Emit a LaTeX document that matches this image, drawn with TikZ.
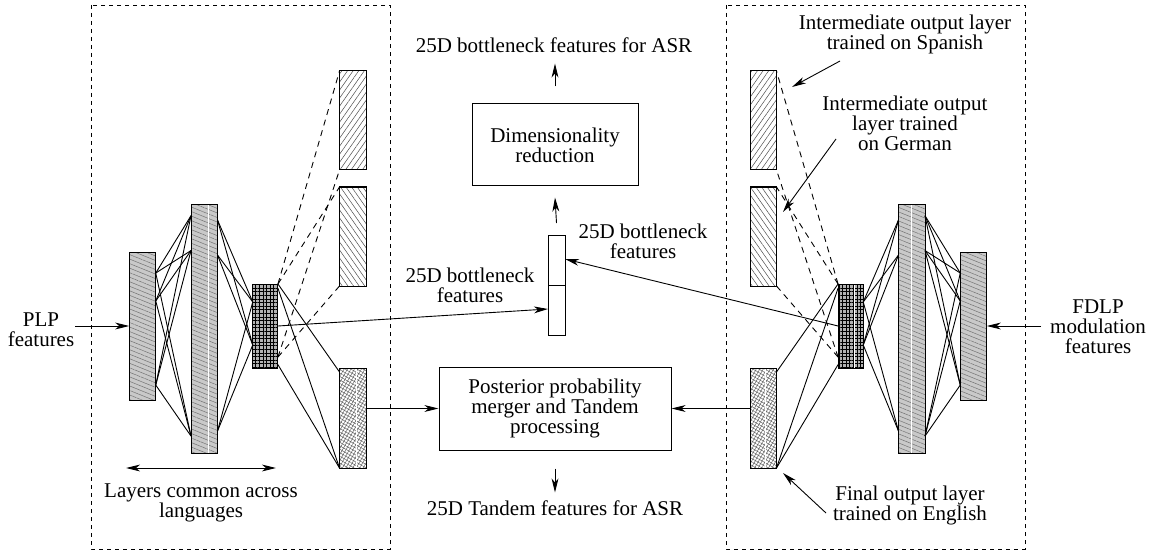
\documentclass[tikz,border=0pt]{standalone}
\usepackage{fontspec}
\setmainfont{Liberation Serif}
\usetikzlibrary{calc,arrows.meta,patterns.meta}

\begin{document}
\begin{tikzpicture}[x=0.5pt,y=-0.5pt,
  txt/.style={font=\fontsize{10.5}{10}\selectfont, align=center, inner sep=0pt},
  wire/.style={line width=0.45pt},
  dwire/.style={line width=0.45pt, dash pattern=on 3pt off 2.5pt},
  head/.tip={Stealth[length=7pt,width=3.4pt,inset=2pt]},
  arr/.style={line width=0.45pt, -head},
  darr/.style={line width=0.45pt, head-head},
  frame/.style={line width=0.45pt, dash pattern=on 2pt off 2pt},
  box/.style={draw, line width=0.5pt, inner sep=0pt, txt},
  layer/.style={draw, line width=0.5pt, inner sep=0pt, outer sep=0pt, minimum width=13.25pt},
  shared/.style={layer, preaction={fill=gray!42}, pattern={Lines[angle=-22,distance=2.1pt,line width=0.25pt]}, pattern color=black!55},
  neck/.style={layer, minimum width=12.6pt, minimum height=42pt, preaction={fill=gray!60}, pattern={Hatch[angle=0,distance=1.8pt,line width=0.3pt]}, pattern color=black},
  spout/.style={layer, minimum height=49.5pt, preaction={fill=white}, pattern={Lines[angle=55,distance=2.3pt,line width=0.25pt]}, pattern color=black!70},
  grout/.style={layer, minimum height=49.5pt, preaction={fill=white}, pattern={Lines[angle=-55,distance=2.3pt,line width=0.25pt]}, pattern color=black!70},
  enout/.style={layer, minimum height=50pt, preaction={fill=white}, pattern={Hatch[angle=60,distance=1.5pt,line width=0.25pt]}, pattern color=black!60},
  streak/.style={white, line width=0.5pt},
  bnbox/.style={layer, minimum width=8.5pt, minimum height=25pt, fill=white}
]
\useasboundingbox (0,0) rectangle (1157,551);

% dashed frames around the two networks
\draw[frame] (91,5) rectangle (390,549);
\draw[frame] (726,5) rectangle (1025,549);

% ---------------- left network (PLP) ----------------
\node[shared, minimum height=74pt] (L1) at (142.5,326) {};
\node[shared, minimum height=124.5pt] (H1) at (204.25,328.5) {};
\node[neck] (B1) at (265.35,326) {};
\node[spout] (OS1) at (352.75,120.5) {};
\node[grout] (OG1) at (352.75,236.5) {};
\node[enout] (OE1) at (352.75,418) {};

% ---------------- right network (FDLP) ----------------
\node[shared, minimum height=74pt] (R1) at (973.5,326) {};
\node[shared, minimum height=124.5pt] (H2) at (911.75,328.5) {};
\node[neck] (B2) at (850.65,326) {};
\node[spout] (OS2) at (763.25,120.5) {};
\node[grout] (OG2) at (763.25,236.5) {};
\node[enout] (OE2) at (763.25,418) {};

% light streaks inside some layers
\draw[streak] ($(H1.north west)!0.67!(H1.north east)$) -- ($(H1.south west)!0.67!(H1.south east)$);
\draw[streak] ($(H2.north west)!0.48!(H2.north east)$) -- ($(H2.south west)!0.48!(H2.south east)$);
\draw[streak] ($(B2.north west)!0.67!(B2.north east)$) -- ($(B2.south west)!0.67!(B2.south east)$);
\draw[streak] ($(OE1.north west)!0.63!(OE1.north east)$) -- ($(OE1.south west)!0.63!(OE1.south east)$);
\draw[streak] ($(OE2.north west)!0.6!(OE2.north east)$) -- ($(OE2.south west)!0.6!(OE2.south east)$);
\foreach \n in {L1,H1,B1,OS1,OG1,OE1,R1,H2,B2,OS2,OG2,OE2}{\draw[line width=0.5pt] (\n.north west) rectangle (\n.south east);}

% input -> hidden
\foreach \a in {0.142,0.331,0.899}{
  \foreach \b in {0.047,0.187,0.932}{
    \draw[wire] ($(L1.north east)!\a!(L1.south east)$) -- ($(H1.north west)!\b!(H1.south west)$);
    \draw[wire] ($(R1.north west)!\a!(R1.south west)$) -- ($(H2.north east)!\b!(H2.south east)$);
  }}
% hidden -> bottleneck
\foreach \a in {0.064,0.205,0.912}{
  \foreach \b in {0.214,0.726}{
    \draw[wire] ($(H1.north east)!\a!(H1.south east)$) -- ($(B1.north west)!\b!(B1.south west)$);
    \draw[wire] ($(H2.north west)!\a!(H2.south west)$) -- ($(B2.north east)!\b!(B2.south east)$);
  }}

% bottleneck -> intermediate outputs (dashed)
\draw[dwire] (B1.north east) -- (OS1.north west);
\draw[dwire] (B1.north east) -- (OG1.north west);
\draw[dwire] ($(B1.north east)!0.87!(B1.south east)$) -- (OS1.south west);
\draw[dwire] ($(B1.north east)!0.87!(B1.south east)$) -- (OG1.south west);
\draw[dwire] (B2.north west) -- (OS2.north east);
\draw[dwire] (B2.north west) -- (OG2.north east);
\draw[dwire] ($(B2.north west)!0.87!(B2.south west)$) -- (OS2.south east);
\draw[dwire] ($(B2.north west)!0.87!(B2.south west)$) -- (OG2.south east);

% bottleneck -> final output
\draw[wire] (B1.north east) -- ($(OE1.north west)!0.04!(OE1.south west)$);
\draw[wire] ($(B1.north east)!0.05!(B1.south east)$) -- (OE1.south west);
\draw[wire] ($(B1.north east)!0.96!(B1.south east)$) -- (OE1.south west);
\draw[wire] (B2.north west) -- ($(OE2.north east)!0.04!(OE2.south east)$);
\draw[wire] ($(B2.north west)!0.05!(B2.south west)$) -- (OE2.south east);
\draw[wire] ($(B2.north west)!0.96!(B2.south west)$) -- (OE2.south east);

% ---------------- central processing ----------------
\node[box, minimum width=83pt, minimum height=41pt] (dim) at (555,145) {Dimensionality\\reduction};
\node[box, minimum width=116pt, minimum height=41.5pt] (post) at (555,408.5) {Posterior probability\\merger and Tandem\\processing};
\node[bnbox] (BNt) at (556.5,260) {};
\node[bnbox] (BNb) at (556.5,310) {};

\node[txt] (topout) at (554,45) {25D bottleneck features for ASR};
\node[txt] (botout) at (555,508) {25D Tandem features for ASR};
\node[txt] (neckR) at (643,241) {25D bottleneck\\features};
\node[txt] (neckL) at (470,285) {25D bottleneck\\features};

\draw[arr] (B1.east) -- ($(BNb.north west)!0.48!(BNb.south west)$);
\draw[arr] (B2.west) -- ($(BNt.north east)!0.48!(BNt.south east)$);
\draw[arr] ([yshift=6pt]BNt.north) -- ([yshift=-5.5pt]dim.south);
\draw[arr] ([yshift=8.5pt]dim.north) -- ([yshift=20pt]dim.north);
\draw[arr] (post.west -| OE1.east) -- (post.west);
\draw[arr] (post.east -| OE2.west) -- (post.east);
\draw[arr] ([yshift=-9pt]post.south) -- ([yshift=-21pt]post.south);

% ---------------- inputs and annotations ----------------
\node[txt] (plp) at (41,330) {PLP\\features};
\node[txt] (fdlp) at (1098,327) {FDLP\\modulation\\features};
\node[txt] (common) at (201,503) {Layers common across\\languages};
\node[txt] (spn) at (905,34) {Intermediate output layer\\trained on Spanish};
\node[txt] (ger) at (905,123) {Intermediate output\\layer trained\\on German};
\node[txt] (eng) at (910,505) {Final output layer\\trained on English};

\coordinate (plpA) at (75,326);
\coordinate (fdlpA) at (1041,326);
\coordinate (spnA) at (840,61);
\coordinate (spnB) at (792,87);
\coordinate (gerA) at (836,139);
\coordinate (gerB) at (783,212);
\coordinate (engA) at (826,513);
\coordinate (engB) at (783,473);
\coordinate (comL) at (126,468);
\coordinate (comR) at (276,468);

\draw[arr] (plpA) -- (L1.west);
\draw[arr] (fdlpA) -- (R1.east);
\draw[arr] (spnA) -- (spnB);
\draw[arr] (gerA) -- (gerB);
\draw[arr] (engA) -- (engB);
\draw[darr] (comL) -- (comR);
\end{tikzpicture}
\end{document}
